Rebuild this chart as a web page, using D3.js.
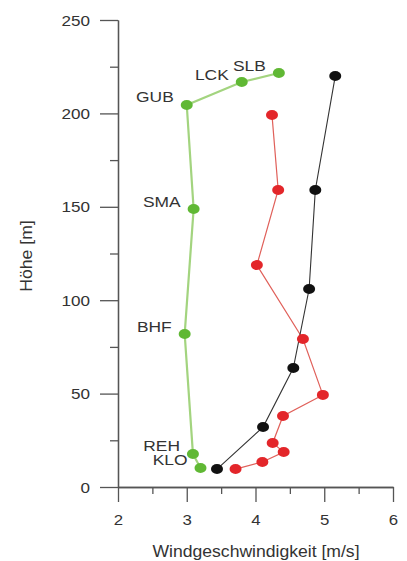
<!DOCTYPE html>
<html>
<head>
<meta charset="utf-8">
<script src="https://cdn.jsdelivr.net/npm/d3@7"></script>
<style>
  body { margin: 0; background: #fff; }
  svg { display: block; }
  text { font-family: "Liberation Sans", Arial, sans-serif; fill: #333; }
</style>
</head>
<body>
<script>
// stations on the green profile
var greenLabels = ["SLB", "LCK", "GUB", "SMA", "BHF", "REH", "KLO"];
var greenSpeed  = [4.34, 3.80, 3.00, 3.10, 2.97, 3.09, 3.20];
var greenHeight = [221.6, 216.8, 204.5, 148.8, 81.9, 17.7, 10.2];

var redSpeed  = [4.24, 4.33, 4.02, 4.69, 4.98, 4.40, 4.25, 4.41, 4.10, 3.71];
var redHeight = [199.1, 159.0, 118.8, 79.2, 49.3, 38.0, 23.6, 18.7, 13.4, 9.6];

var blackSpeed  = [5.16, 4.87, 4.78, 4.55, 4.11, 3.44];
var blackHeight = [220.0, 159.0, 106.0, 63.7, 32.1, 9.6];

var xMajor = [2, 3, 4, 5, 6];
var xMinor = [2.5, 3.5, 4.5, 5.5];
var yMajor = [0, 50, 100, 150, 200, 250];
var yMinor = [25, 75, 125, 175, 225];

var width = 407, height = 561;
var axisColor = "#555";

var svg = d3.select("body").append("svg")
	.attr("width", width)
	.attr("height", height);

var x = d3.scaleLinear().domain([2, 6]).range([118, 393]);
var y = d3.scaleLinear().domain([0, 250]).range([487, 20]);

function zip(xs, ys) {
	return xs.map(function(v, i) { return {x: v, y: ys[i]}; });
}

// axes
var gx = svg.append("g").attr("transform", "translate(0," + y(0) + ")");
gx.call(d3.axisBottom(x).tickValues(xMinor).tickSize(7).tickSizeOuter(0).tickFormat(""));
gx.append("g").call(d3.axisBottom(x).tickValues(xMajor).tickSize(15).tickSizeOuter(0).tickFormat(d3.format("d")));

var gy = svg.append("g").attr("transform", "translate(" + x(2) + ",0)");
gy.call(d3.axisLeft(y).tickValues(yMinor).tickSize(8).tickSizeOuter(0).tickFormat(""));
gy.append("g").call(d3.axisLeft(y).tickValues(yMajor).tickSize(18).tickSizeOuter(0).tickFormat(d3.format("d")));

svg.selectAll(".domain, .tick line")
	.attr("stroke", axisColor)
	.attr("stroke-width", 1.3);

gx.selectAll(".tick text")
	.attr("y", null).attr("dy", null)
	.attr("transform", "translate(0,38) scale(1.12,1)")
	.style("font-size", "15px")
	.attr("fill", "#333");

gy.selectAll(".tick text")
	.attr("x", null).attr("dy", "0.34em")
	.attr("transform", "translate(-28,0) scale(1.14,1)")
	.style("font-size", "15px")
	.attr("fill", "#333");

// axis titles
svg.append("text")
	.attr("text-anchor", "middle")
	.attr("transform", "translate(256,557) scale(1.1,1)")
	.style("font-size", "16px")
	.text("Windgeschwindigkeit [m/s]");

svg.append("text")
	.attr("text-anchor", "middle")
	.attr("transform", "translate(32,256) rotate(-90) scale(1.1,1)")
	.style("font-size", "16px")
	.text("Höhe [m]");

// profiles
var line = d3.line()
	.x(function(d) { return x(d.x); })
	.y(function(d) { return y(d.y); });

var series = [
	{data: zip(greenSpeed, greenHeight), line: "#a3d47f", dot: "#60b834", lw: 2.2},
	{data: zip(redSpeed, redHeight), line: "#e0605a", dot: "#e3262a", lw: 1.2},
	{data: zip(blackSpeed, blackHeight), line: "#333", dot: "#111", lw: 1.1}
];

series.forEach(function(s) {
	svg.append("path")
		.datum(s.data)
		.attr("fill", "none")
		.attr("stroke", s.line)
		.attr("stroke-width", s.lw)
		.attr("d", line);
});

series.forEach(function(s) {
	svg.append("g").selectAll("ellipse")
		.data(s.data)
		.enter()
		.append("ellipse")
		.attr("cx", function(d) { return x(d.x); })
		.attr("cy", function(d) { return y(d.y); })
		.attr("rx", 6)
		.attr("ry", 5)
		.attr("fill", s.dot);
});

// station labels
svg.append("g").selectAll("text")
	.data(zip(greenSpeed, greenHeight))
	.enter()
	.append("text")
	.attr("text-anchor", "end")
	.attr("transform", function(d) {
		return "translate(" + (x(d.x) - 13) + "," + (y(d.y) - 2.5) + ") scale(1.2,1)";
	})
	.style("font-size", "14.5px")
	.attr("fill", "#222")
	.text(function(d, i) { return greenLabels[i]; });
</script>
</body>
</html>
